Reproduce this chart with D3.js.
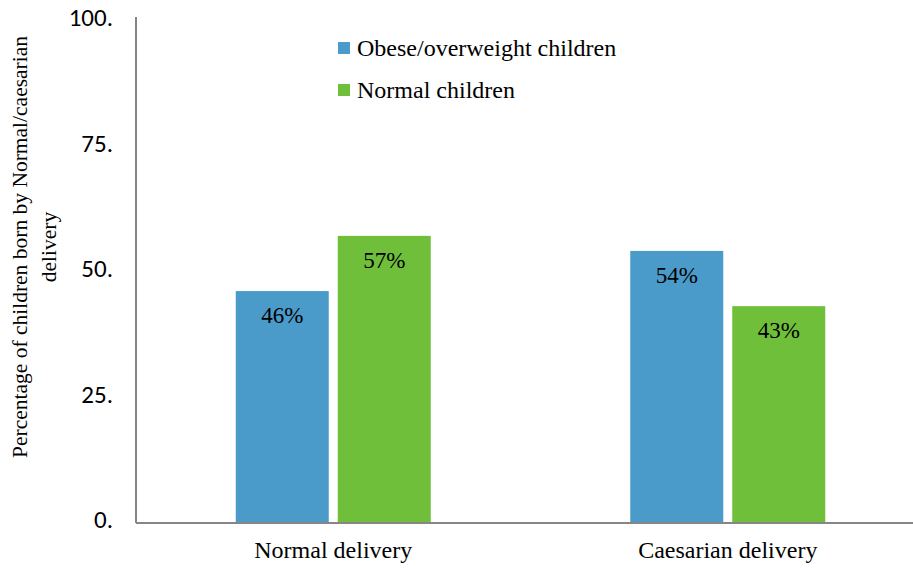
<!DOCTYPE html>
<html>
<head>
<meta charset="utf-8">
<script src="https://cdn.jsdelivr.net/npm/d3@7"></script>
<style>
  html, body { margin: 0; padding: 0; background: #fff; }
  svg { display: block; }
  .serif { font-family: "Liberation Serif", "Times New Roman", serif; }
  .sans { font-family: Carlito, Calibri, "Liberation Sans", sans-serif; }
</style>
</head>
<body>
<svg id="chart" width="913" height="568"></svg>
<script>
// Delivery mode categories and the share of each child group born that way
const categories = ["Normal delivery", "Caesarian delivery"];
const seriesNames = ["Obese/overweight children", "Normal children"];
const obeseValues = [46, 54];
const normalValues = [57, 43];
const seriesColors = ["#4a9aca", "#70bf3a"];
const yTicks = [0, 25, 50, 75, 100];
const yTitleLines = ["Percentage of children born by Normal/caesarian", "delivery"];

const series = [obeseValues, normalValues];

const svg = d3.select("#chart");
const W = 913, H = 568;
const margin = { left: 136, right: -12, top: 20, bottom: 46 };

const x = d3.scaleBand()
  .domain(categories)
  .range([margin.left, W - margin.right])
  .paddingInner(0).paddingOuter(0);

const barW = 93, barGap = 9;
const groupW = barW * 2 + barGap;

const y = d3.scaleLinear()
  .domain([0, 100])
  .range([H - margin.bottom, margin.top]);

const barX = (i, si) => x(categories[i]) + x.bandwidth() / 2 - groupW / 2 + si * (barW + barGap);

// Bars with their value labels just inside the top
series.forEach((vals, si) => {
  svg.append("g").selectAll("rect")
    .data(vals)
    .join("rect")
    .attr("x", (d, i) => barX(i, si))
    .attr("width", barW)
    .attr("y", d => y(d))
    .attr("height", d => y(0) - y(d))
    .attr("fill", seriesColors[si]);

  svg.append("g").selectAll("text")
    .data(vals)
    .join("text")
    .attr("class", "serif")
    .attr("x", (d, i) => barX(i, si) + barW / 2)
    .attr("y", d => y(d) + 32)
    .attr("text-anchor", "middle")
    .style("font-size", "23px")
    .attr("fill", "#000")
    .text(d => d + "%");
});

// Y axis
const yAxis = d3.axisLeft(y).tickValues(yTicks).tickSize(0).tickPadding(0)
  .tickFormat(d => d + ".");
const yg = svg.append("g").attr("transform", `translate(${margin.left},0)`).call(yAxis);
yg.attr("font-family", null).attr("font-size", null);
yg.select(".domain").remove();
yg.selectAll("text")
  .attr("class", "sans")
  .attr("x", -23)
  .attr("dy", "0.22em")
  .style("font-size", "25px")
  .attr("fill", "#000");

svg.append("line")
  .attr("x1", margin.left).attr("x2", margin.left)
  .attr("y1", y(100) - 3).attr("y2", y(0) + 1)
  .attr("stroke", "#868686").attr("stroke-width", 2);

// X axis
const xAxis = d3.axisBottom(x).tickSize(0).tickPadding(0);
const xg = svg.append("g").attr("transform", `translate(0,${y(0)})`).call(xAxis);
xg.attr("font-family", null).attr("font-size", null);
xg.select(".domain").remove();
xg.selectAll("text")
  .attr("class", "serif")
  .attr("y", 36)
  .attr("dy", 0)
  .style("font-size", "24px")
  .attr("fill", "#000");

svg.append("line")
  .attr("x1", margin.left).attr("x2", W)
  .attr("y1", y(0) + 1).attr("y2", y(0) + 1)
  .attr("stroke", "#868686").attr("stroke-width", 2);

// Y axis title, two lines
const yt = svg.append("text")
  .attr("class", "serif")
  .attr("transform", `translate(0,${247}) rotate(-90)`)
  .attr("text-anchor", "middle")
  .style("font-size", "21.5px")
  .attr("fill", "#000");
yTitleLines.forEach((line, i) => {
  yt.append("tspan").attr("x", 0).attr("y", 27 + i * 29).text(line);
});

// Legend
const legend = svg.append("g").attr("transform", "translate(338,42)");
seriesNames.forEach((name, i) => {
  const g = legend.append("g").attr("transform", `translate(0,${i * 42})`);
  g.append("rect").attr("width", 12).attr("height", 12).attr("fill", seriesColors[i]);
  g.append("text")
    .attr("class", "serif")
    .attr("x", 19).attr("y", 14)
    .style("font-size", "24px")
    .attr("fill", "#000")
    .text(name);
});
</script>
</body>
</html>
